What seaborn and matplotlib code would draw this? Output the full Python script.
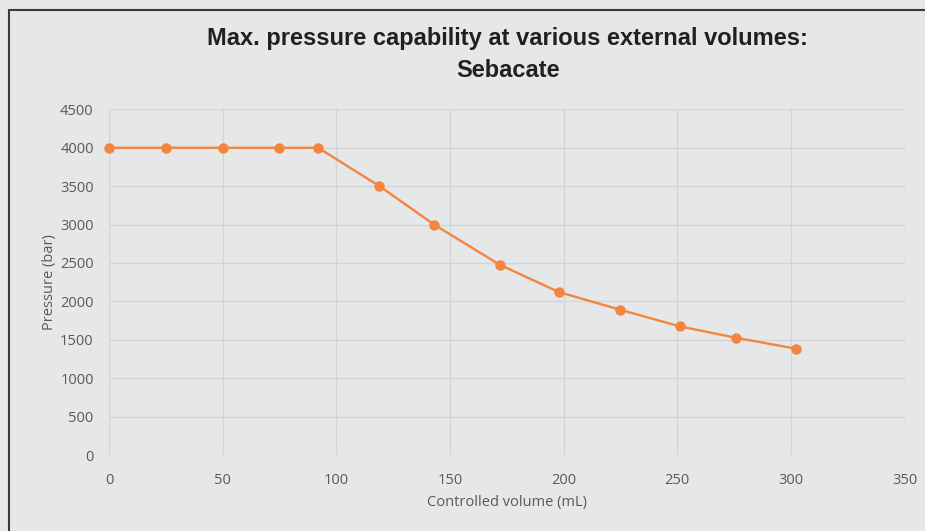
import matplotlib
matplotlib.use("Agg")
import matplotlib.pyplot as plt
import seaborn as sns
import pandas as pd
from matplotlib.lines import Line2D

volume_ml = [0, 25, 50, 75, 92, 119, 143, 172, 198, 225, 251, 276, 302]
pressure_bar = [4000, 4000, 4000, 4000, 4000, 3500, 3000, 2475, 2120, 1890, 1675, 1525, 1385]
x_ticks = [0, 50, 100, 150, 200, 250, 300, 350]
y_ticks = [0, 500, 1000, 1500, 2000, 2500, 3000, 3500, 4000, 4500]
title = "Max. pressure capability at various external volumes:\nSebacate"
x_label = "Controlled volume (mL)"
y_label = "Pressure (bar)"

df = pd.DataFrame({"volume": volume_ml, "pressure": pressure_bar})

bg = "#e6e7e9"
sns.set_theme(style="whitegrid")
plt.rcParams["font.family"] = ["Open Sans", "DejaVu Sans"]

fig = plt.figure(figsize=(9.25, 5.31), dpi=100, facecolor=bg)
ax = fig.add_axes([0.1178, 0.1431, 0.8602, 0.651])
ax.set_facecolor(bg)

sns.lineplot(data=df, x="volume", y="pressure", ax=ax, color="#f3853f",
             linewidth=1.7, marker="o", markersize=7.5, markeredgewidth=0,
             zorder=3, clip_on=False)

ax.set_xlim(0, 350)
ax.set_ylim(0, 4500)
ax.set_xticks(x_ticks)
ax.set_yticks(y_ticks)
ax.grid(True, color="#d3d4d6", linewidth=1.0)
for s in ax.spines.values():
    s.set_visible(False)
ax.tick_params(axis="both", length=0, labelsize=10.5, labelcolor="#595959")
ax.tick_params(axis="x", pad=13)
ax.tick_params(axis="y", pad=11)
ax.set_xlabel(x_label, fontsize=10.5, color="#595959", labelpad=5)
ax.set_ylabel(y_label, fontsize=10.5, color="#595959", labelpad=2)

fig.text(0.549, 0.95, title, ha="center", va="top", fontsize=17, fontweight="bold",
         color="#231f20", family=["Liberation Sans", "DejaVu Sans"], linespacing=1.55)

fig.add_artist(Line2D([0.0097, 1.0], [0.981, 0.981], color="#3a3a3a", linewidth=1.5,
                      transform=fig.transFigure))
fig.add_artist(Line2D([0.0097, 0.0097], [0.0, 0.981], color="#3a3a3a", linewidth=1.5,
                      transform=fig.transFigure))

fig.savefig("out.png", dpi=100, facecolor=bg)
